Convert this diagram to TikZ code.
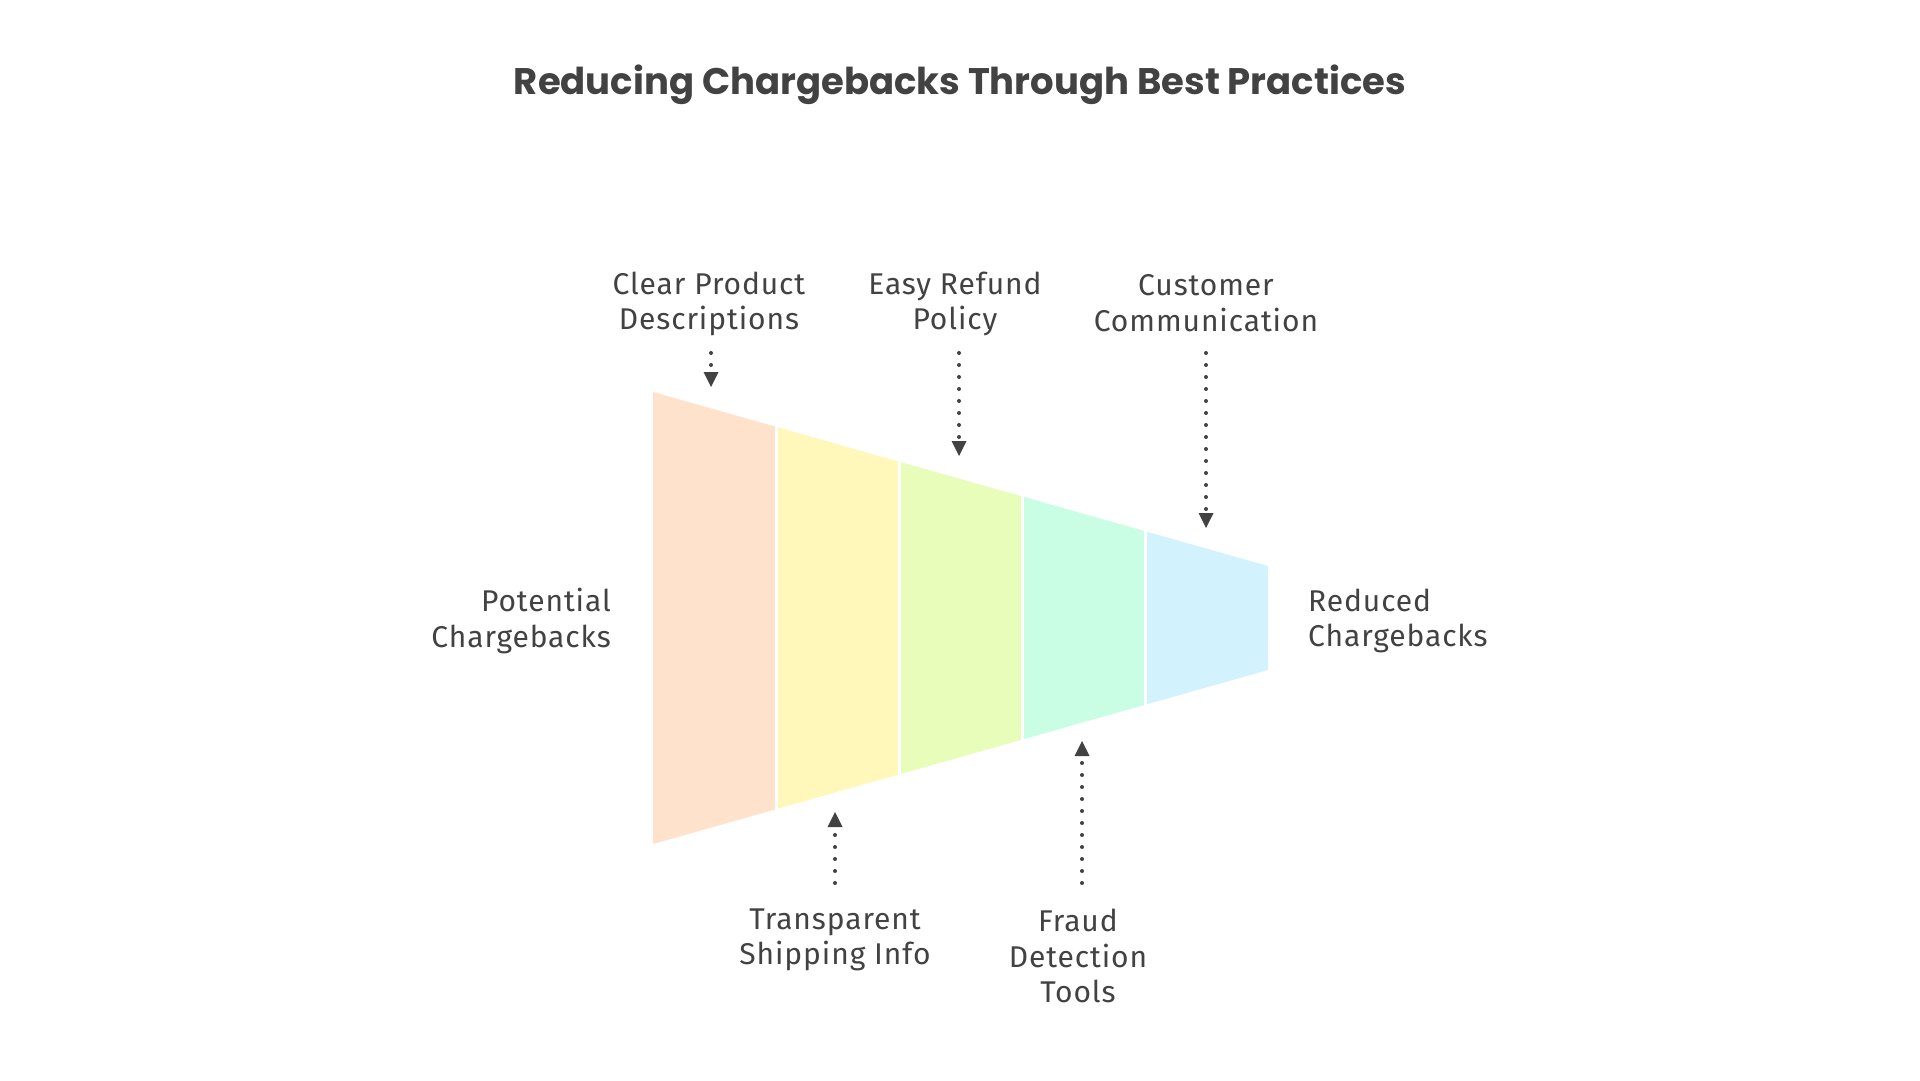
\documentclass[tikz,border=0pt]{standalone}
\usepackage{fontspec}
\setmainfont{Fira Sans}
\newfontfamily\lblfont{Fira Sans}[LetterSpace=3]
\newfontfamily\titlefont{Poppins}
\usetikzlibrary{arrows.meta}
\definecolor{txt}{HTML}{424242}
\definecolor{cA}{HTML}{FEE2CC}
\definecolor{cB}{HTML}{FFF8BA}
\definecolor{cC}{HTML}{E8FDB9}
\definecolor{cD}{HTML}{C9FEE4}
\definecolor{cE}{HTML}{D2F3FD}
\tikzset{
  lbl/.style={text=txt, font=\lblfont\fontsize{30}{35.5}\selectfont, inner sep=0pt},
  ttl/.style={text=txt, font=\titlefont\bfseries\fontsize{37}{42}\selectfont, inner sep=0pt},
  conn/.style={draw=txt, line width=4pt, dash pattern=on 0pt off 12pt, line cap=round,
    -{Triangle[width=15pt,length=15pt,line width=0pt,fill=txt]}},
  gap/.style={draw=white, line width=3pt}
}
\begin{document}
\begin{tikzpicture}[x=1pt,y=-1pt]
\useasboundingbox[fill=white] (0,0) rectangle (1920,1080);
% funnel segments
\fill[cA] (653,392) -- (776,426.8) -- (776,809.2) -- (653,844) -- cycle;
\fill[cB] (776,426.8) -- (899,461.6) -- (899,774.4) -- (776,809.2) -- cycle;
\fill[cC] (899,461.6) -- (1022,496.4) -- (1022,739.6) -- (899,774.4) -- cycle;
\fill[cD] (1022,496.4) -- (1145,531.2) -- (1145,704.8) -- (1022,739.6) -- cycle;
\fill[cE] (1145,531.2) -- (1268,566) -- (1268,670) -- (1145,704.8) -- cycle;
\draw[gap] (776,425) -- (776,811);
\draw[gap] (899,460) -- (899,776);
\draw[gap] (1022,495) -- (1022,741);
\draw[gap] (1145,530) -- (1145,706);
% title
\node[ttl, anchor=base] (title) at (960,94) {Reducing Chargebacks Through Best Practices};
% labels
\node[lbl, align=center] (clear) at (709,304) {Clear Product\\Descriptions};
\node[lbl, align=center] (easy) at (955,304) {Easy Refund\\Policy};
\node[lbl, align=center] (cust) at (1206,303) {Customer\\Communication};
\node[lbl, align=right, anchor=east] (pot) at (611,621) {Potential\\Chargebacks};
\node[lbl, align=left, anchor=west] (red) at (1308,621) {Reduced\\Chargebacks};
\node[lbl, align=center] (trans) at (835,940) {Transparent\\Shipping Info};
\node[lbl, align=center] (fraud) at (1078,956) {Fraud\\Detection\\Tools};
% connector ends
\coordinate (clearS) at (711,353);
\coordinate (clearT) at (711,387);
\coordinate (easyS) at (959,353);
\coordinate (easyT) at (959,456);
\coordinate (custS) at (1206,353);
\coordinate (custT) at (1206,528);
\coordinate (transS) at (835,883);
\coordinate (transT) at (835,812);
\coordinate (fraudS) at (1082,883);
\coordinate (fraudT) at (1082,741);
\draw[conn] (clearS) -- (clearT);
\draw[conn] (easyS) -- (easyT);
\draw[conn] (custS) -- (custT);
\draw[conn] (transS) -- (transT);
\draw[conn] (fraudS) -- (fraudT);
\end{tikzpicture}
\end{document}
